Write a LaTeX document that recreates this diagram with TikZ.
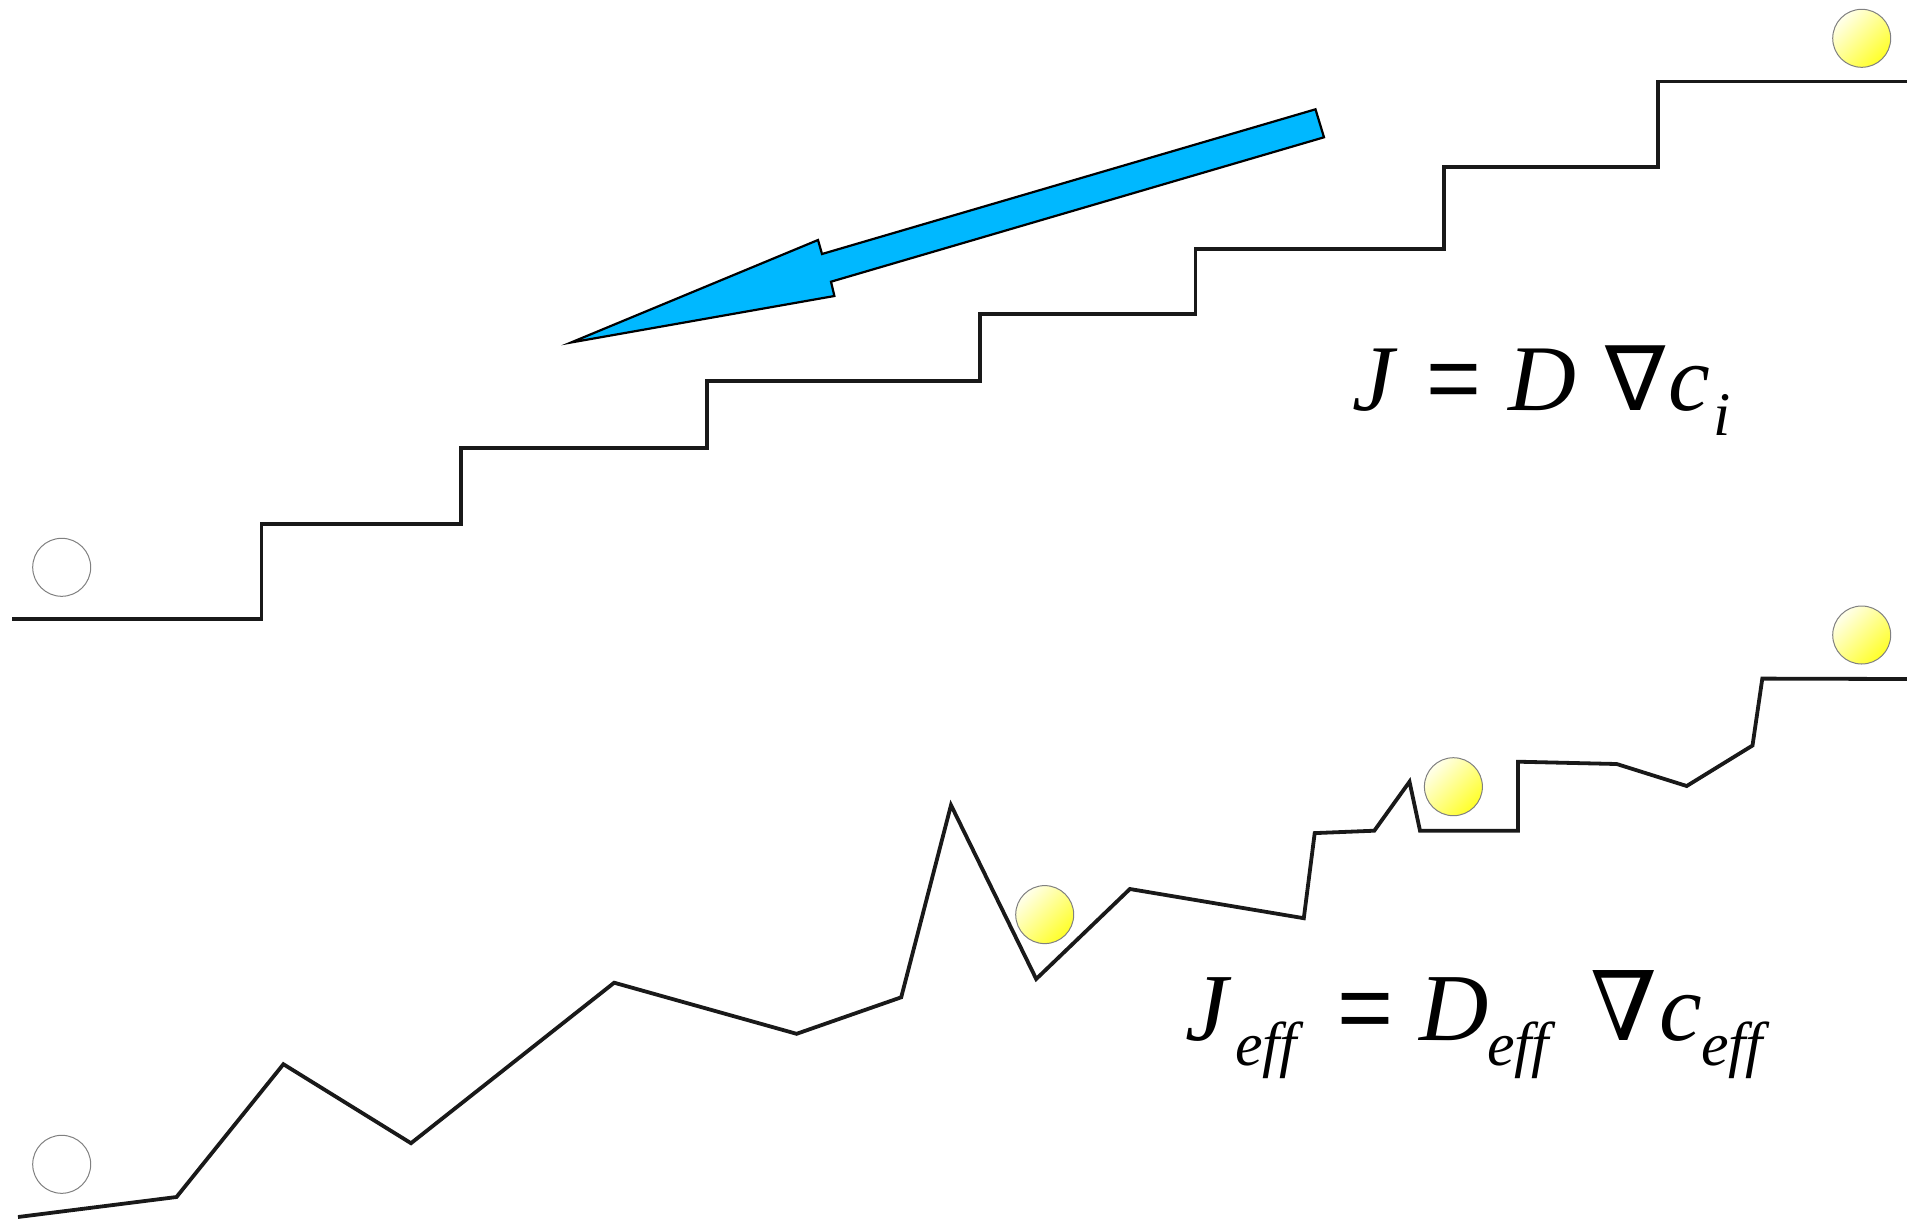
\documentclass[tikz,border=0pt]{standalone}
\usepackage{fontspec}
\setmainfont{Liberation Serif}
\newfontfamily\nablafont{DejaVu Serif}
\newfontfamily\nablasans{DejaVu Sans}
\newfontfamily\eqfont{Liberation Sans}
\definecolor{arrowblue}{RGB}{0,184,255}
\definecolor{ballyellow}{RGB}{255,255,40}
\definecolor{balllight}{RGB}{255,255,235}
\begin{document}
\begin{tikzpicture}[x=1pt,y=-1pt,
  stair/.style={draw=black!90, line width=3.8pt, line join=miter},
  ball/.style={circle, draw=black!50, line width=1pt, inner sep=0pt, minimum size=58pt,
    top color=balllight, bottom color=ballyellow, shading angle=45},
  emptyball/.style={circle, draw=black!50, line width=1pt, inner sep=0pt, minimum size=58pt, fill=white},
  bigupper/.style={inner sep=0pt, anchor=base, font=\fontsize{94}{100}\selectfont\itshape},
  biglower/.style={inner sep=0pt, anchor=base, font=\fontsize{96}{100}\selectfont\itshape},
  subtext/.style={inner sep=0pt, anchor=base, font=\fontsize{62}{70}\selectfont\itshape},
  equpper/.style={inner sep=0pt, anchor=base, font=\fontsize{94}{100}\selectfont\eqfont},
  eqlower/.style={inner sep=0pt, anchor=base, font=\fontsize{96}{100}\selectfont\eqfont},
  nabupper/.style={inner sep=0pt, anchor=base, font=\fontsize{90}{100}\selectfont\nablasans},
  nablower/.style={inner sep=0pt, anchor=base, font=\fontsize{96}{100}\selectfont\nablafont},
  flow/.style={draw=black, line width=2.2pt, line join=miter, fill=arrowblue}
]
\useasboundingbox (0,0) rectangle (1907,1219);

% upper staircase
\draw[stair] (12,619) -- (261.5,619) -- (261.5,524) -- (461,524) -- (461,447.6)
  -- (706.6,447.6) -- (706.6,380.7) -- (980.3,380.7) -- (980.3,313.8)
  -- (1195.5,313.8) -- (1195.5,249.3) -- (1443.6,249.3) -- (1443.6,166.6)
  -- (1657.7,166.6) -- (1657.7,81.5) -- (1907,81.5);

% lower rough path
\draw[stair] (18,1217) -- (176.5,1197) -- (283.4,1064.2) -- (411,1143.2)
  -- (614.2,982.7) -- (796.6,1033.8) -- (901.2,997.3) -- (951,805.1)
  -- (1036.2,979) -- (1129.9,889) -- (1303.8,918.2) -- (1314.7,833.1)
  -- (1374.3,830.7) -- (1409.5,781.7) -- (1420,830.7) -- (1518,830.7)
  -- (1518,761.7) -- (1616.7,764) -- (1686.7,786) -- (1752.5,745.5)
  -- (1762.3,678.6) -- (1907,679);

% blue arrow
\draw[flow] (571,342.5) -- (818,240) -- (822,254) -- (1315.5,109.3)
  -- (1324,137.3) -- (831,281.7) -- (834.4,296) -- cycle;

% balls
\node[ball] (ballA) at (1861.7,38.3) {};
\node[ball] (ballB) at (1861.7,635) {};
\node[ball] (ballC) at (1453.4,786.7) {};
\node[ball] (ballD) at (1044.7,914.6) {};
\node[emptyball] (emptyA) at (61.7,567.3) {};
\node[emptyball] (emptyB) at (61.7,1164.3) {};

% upper formula
\node[bigupper] (uJ) at (1373,410) {J};
\node[equpper] (uEq) at (1454,410) {=};
\node[bigupper] (uD) at (1542,410) {D};
\node[nabupper] (uNab) at (1636,410) {∇};
\node[bigupper] (uC) at (1689,410) {c};
\node[subtext] (uI) at (1722,435) {i};

% lower formula
\node[biglower] (lJ) at (1207,1040) {J};
\node[subtext] (lJs) at (1266,1065) {eff};
\node[eqlower] (lEq) at (1366,1040) {=};
\node[biglower] (lD) at (1454,1040) {D};
\node[subtext] (lDs) at (1518,1065) {eff};
\node[nablower] (lNab) at (1624,1040) {∇};
\node[biglower] (lC) at (1681,1040) {c};
\node[subtext] (lCs) at (1732,1065) {eff};
\end{tikzpicture}
\end{document}
